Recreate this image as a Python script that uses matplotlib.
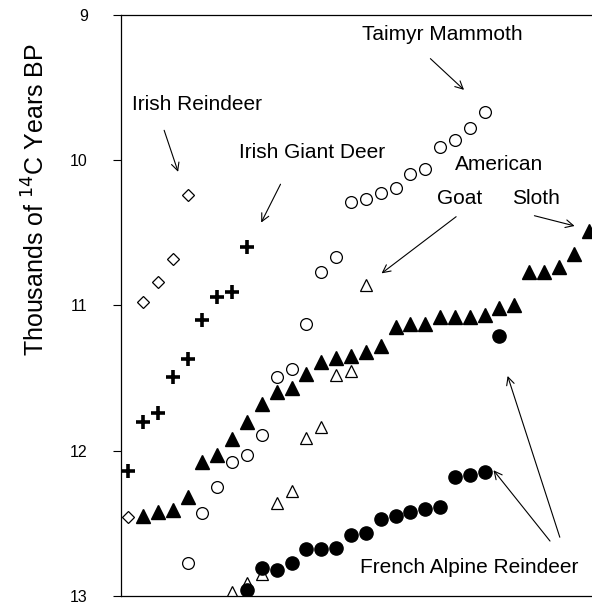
import matplotlib.pyplot as plt

plt.rcParams['font.family'] = ['Liberation Sans', 'DejaVu Sans']

# sample rank (x) and age in thousands of 14C years BP (y)
reindeer_irl_x = [0, 1, 2, 3, 4]
reindeer_irl_y = [12.46, 10.98, 10.84, 10.68, 10.24]

giant_deer_x = [0, 1, 2, 3, 4, 5, 6, 7, 8]
giant_deer_y = [12.14, 11.80, 11.74, 11.49, 11.37, 11.10, 10.94, 10.91, 10.60]

mammoth_x = list(range(4, 25))
mammoth_y = [12.77, 12.43, 12.25, 12.08, 12.03, 11.89, 11.49, 11.44, 11.13,
             10.77, 10.67, 10.29, 10.27, 10.23, 10.19, 10.10, 10.06, 9.91,
             9.86, 9.78, 9.67]

goat_x = [7, 8, 9, 10, 11, 12, 13, 14, 15, 16]
goat_y = [12.97, 12.91, 12.85, 12.36, 12.28, 11.91, 11.84, 11.48, 11.45, 10.86]

sloth_x = list(range(1, 32))
sloth_y = [12.45, 12.42, 12.41, 12.32, 12.08, 12.03, 11.92, 11.80, 11.68,
           11.60, 11.57, 11.47, 11.39, 11.36, 11.35, 11.32, 11.28, 11.15,
           11.13, 11.13, 11.08, 11.08, 11.08, 11.07, 11.02, 11.00, 10.77,
           10.77, 10.74, 10.65, 10.49]

reindeer_fr_x = list(range(8, 26))
reindeer_fr_y = [12.96, 12.81, 12.82, 12.77, 12.68, 12.68, 12.67, 12.58,
                 12.57, 12.47, 12.45, 12.42, 12.40, 12.39, 12.18, 12.17,
                 12.15, 11.21]

yticks = [9, 10, 11, 12, 13]

fig = plt.figure(figsize=(5.92, 6.05), dpi=100)
ax = fig.add_axes([0.2044, 0.0149, 0.7956, 0.961])

ax.plot(goat_x, goat_y, '^', ms=8.5, mfc='white', mec='black', mew=0.9, ls='none')
ax.plot(reindeer_fr_x, reindeer_fr_y, 'o', ms=9.5, color='black', ls='none')
ax.plot(reindeer_irl_x, reindeer_irl_y, 'D', ms=6, mfc='white', mec='black', mew=0.9, ls='none')
ax.plot(giant_deer_x, giant_deer_y, '+', ms=10, mec='black', mew=2.6, ls='none')
ax.plot(mammoth_x, mammoth_y, 'o', ms=8.5, mfc='white', mec='black', mew=0.9, ls='none')
ax.plot(sloth_x, sloth_y, '^', ms=10, color='black', ls='none')

ax.set_xlim(-0.485, 31.23)
ax.set_ylim(13, 9)
ax.set_yticks(yticks)
ax.set_yticklabels([str(t) for t in yticks], fontsize=11.5)
ax.tick_params(axis='y', direction='out', length=6, width=0.8, pad=18)
ax.set_xticks([])
ax.spines['right'].set_visible(False)
for s in ['left', 'top', 'bottom']:
    ax.spines[s].set_linewidth(0.9)

fig.text(36 / 592, 1 - 200 / 605, 'Thousands of $^{14}$C Years BP', fontsize=18,
         rotation=90, ha='center', va='center')

fs = 15
arr = dict(arrowstyle='->', color='black', lw=0.8, mutation_scale=14)
ax.annotate('Irish Reindeer', xy=(3.42, 10.10), xytext=(4.65, 9.657),
            fontsize=fs, ha='center', va='baseline')
ax.annotate('', xy=(3.42, 10.10), xytext=(2.36, 9.778), arrowprops=arr)
ax.text(12.36, 9.987, 'Irish Giant Deer', fontsize=fs, ha='center', va='baseline')
ax.annotate('', xy=(8.87, 10.448), xytext=(10.34, 10.150), arrowprops=arr)
ax.text(21.17, 9.175, 'Taimyr Mammoth', fontsize=fs, ha='center', va='baseline')
ax.annotate('', xy=(22.75, 9.531), xytext=(20.21, 9.290), arrowprops=arr)
ax.text(24.96, 10.069, 'American', fontsize=fs, ha='center', va='baseline')
ax.text(22.29, 10.303, 'Goat', fontsize=fs, ha='center', va='baseline')
ax.annotate('', xy=(16.91, 10.792), xytext=(22.23, 10.379), arrowprops=arr)
ax.text(27.48, 10.303, 'Sloth', fontsize=fs, ha='center', va='baseline')
ax.annotate('', xy=(30.24, 10.459), xytext=(27.17, 10.379), arrowprops=arr)
ax.text(22.94, 12.841, 'French Alpine Reindeer', fontsize=fs, ha='center', va='baseline')
ax.annotate('', xy=(24.48, 12.120), xytext=(28.52, 12.637), arrowprops=arr)
ax.annotate('', xy=(25.49, 11.468), xytext=(29.12, 12.614), arrowprops=arr)

fig.savefig('out.png', dpi=100)
